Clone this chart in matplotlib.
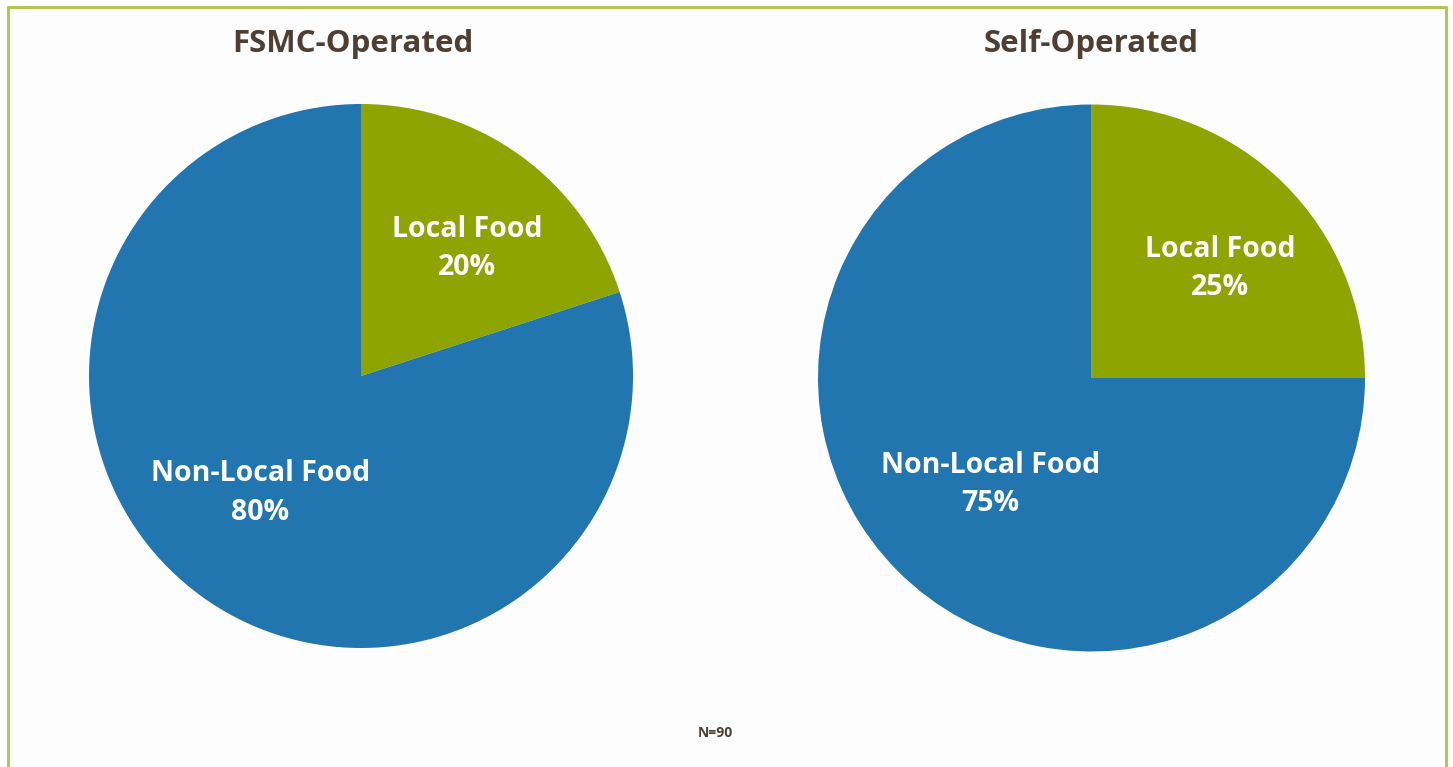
import matplotlib
matplotlib.use("Agg")
import matplotlib.pyplot as plt
from matplotlib.patches import Rectangle

plt.rcParams['font.family'] = ['Open Sans', 'DejaVu Sans']

# survey shares of local vs non-local food purchases
panel_titles = ["FSMC-Operated", "Self-Operated"]
slice_names = ["Local Food", "Non-Local Food"]
local_share = [20, 25]
nonlocal_share = [80, 75]
sample_note = "N=90"

BLUE = "#2176b0"
GREEN = "#8ea400"
BROWN = "#4d3f33"
BORDER = "#b5c556"

W, H = 1453, 767
fig = plt.figure(figsize=(W / 100, H / 100), dpi=100)
fig.patch.set_facecolor("white")

# open-bottom frame around the figure
frame = fig.add_axes([0, 0, 1, 1])
frame.set_xlim(0, W)
frame.set_ylim(H, 0)
frame.axis("off")
frame.add_patch(Rectangle((8, 7), 1438, 760, facecolor="#fdfdfd", edgecolor="none"))
frame.plot([8, 8, 1446, 1446], [767, 7, 7, 767], color=BORDER, lw=2.2, solid_capstyle="butt")

# pie centres and radii in pixels
centres = [(361, 376), (1091.5, 378)]
radii = [272, 273.5]
# label anchor offsets (fraction of radius) for local / non-local text
label_pos = [[(0.39, 0.47), (-0.37, -0.43)],
             [(0.47, 0.40), (-0.37, -0.39)]]

for i in range(2):
    cx, cy = centres[i]
    r = radii[i]
    ax = fig.add_axes([(cx - r) / W, (H - cy - r) / H, 2 * r / W, 2 * r / H])
    ax.pie([local_share[i], nonlocal_share[i]], colors=[GREEN, BLUE],
           startangle=90, counterclock=False, radius=1,
           wedgeprops=dict(linewidth=0))
    ax.set_xlim(-1, 1)
    ax.set_ylim(-1, 1)
    ax.set_aspect("auto")
    ax.axis("off")
    vals = [local_share[i], nonlocal_share[i]]
    for j in range(2):
        x, y = label_pos[i][j]
        ax.text(x, y, f"{slice_names[j]}\n{vals[j]}%", ha="center", va="center",
                color="white", fontsize=20.5, fontweight="bold", linespacing=1.42)
    fig.text((cx - 8 if i == 0 else cx) / W, 1 - 44 / H, panel_titles[i],
             ha="center", va="center", color=BROWN, fontsize=22.5, fontweight="bold")

fig.text(715 / W, 1 - 733 / H, sample_note, ha="center", va="center",
         color=BROWN, fontsize=10, fontweight="bold")

fig.savefig("out.png", dpi=100)
